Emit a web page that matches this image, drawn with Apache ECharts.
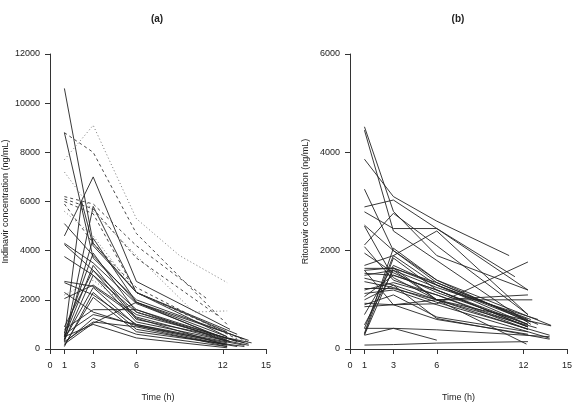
<!DOCTYPE html>
<html><head><meta charset="utf-8">
<script src="https://cdn.jsdelivr.net/npm/echarts@6/dist/echarts.min.js"></script>
<style>html,body{margin:0;padding:0;background:#fff}#c{width:577px;height:411px}</style>
</head><body><div id="c"></div>
<script>
// ---- data ----
const xTicks = [0, 1, 3, 6, 12, 15];
const panelTitles = ['(a)', '(b)'];
const yNames = ['Indinavir concentration (ng/mL)', 'Ritonavir concentration (ng/mL)'];
const xName = 'Time (h)';

// Panel (a): indinavir, solid lines
const indinavirSolid = [
  [[1,10600],[3,4300],[6,2300],[12.3,700]],
  [[1,8800],[3,3700],[6,2000],[13.5,400]],
  [[1,4600],[3,7000],[6,2750],[12.5,800]],
  [[1,500],[2.2,6000],[3,4200],[6,2300],[12.3,500]],
  [[1,300],[3,5800],[6,2300],[13,600]],
  [[1,400],[3,4500],[6,1900],[13.8,350]],
  [[1,4300],[3,3500],[6,1850],[12.3,400]],
  [[1,4250],[3,3200],[6,1600],[13,300]],
  [[1,3760],[3,3000],[6,1500],[12.3,350]],
  [[1,2750],[3,2550],[6,1300],[12.5,300]],
  [[1,2050],[3,2600],[6,1400],[13.5,250]],
  [[1,2700],[3,2200],[6,1000],[12.3,200]],
  [[1,5100],[3,3800],[6,1900],[12.3,500]],
  [[1,650],[3,3900],[6,1500],[13.8,200]],
  [[1,500],[3,3400],[6,1250],[12,200]],
  [[1,800],[3,1600],[4.5,1600],[6,1600],[12.3,300]],
  [[1,600],[3,1400],[6,1000],[13.5,150]],
  [[1,300],[3,1100],[6,900],[12.3,100]],
  [[1,200],[3,1050],[6,1900],[12.5,300]],
  [[1,100],[3,2300],[6,800],[13,100]],
  [[1,400],[3,2500],[6,950],[12.3,150]],
  [[1,350],[3,3000],[6,1100],[13.8,150]],
  [[1,250],[3,1250],[6,600],[12.3,100]],
  [[1,500],[3,1000],[6,450],[12.3,50]],
  [[1,150],[3,2100],[6,700],[13.5,100]],
  [[1,2300],[3,1500],[6,950],[12.3,250]],
  [[1,900],[3,3200],[6,1200],[14,250]]
];
// Panel (a): dashed lines
const indinavirDashed = [
  [[1,8800],[3,8000],[6,4700],[12.3,1000]],
  [[1,6200],[3,5900],[6,4200],[11,2000]],
  [[1,6100],[3,5700],[6,3700],[11.8,1300]],
  [[1,6000],[3,5500],[6,2300],[13.9,250]],
  [[1,5900],[3,4300],[6,2500],[13,400]]
];
// Panel (a): dotted lines
const indinavirDotted = [
  [[1,7700],[3,9100],[6,5300],[9,3800],[12.3,2700]],
  [[1,7200],[3,5600],[6,3800],[10,1500],[12.3,1550]],
  [[1,5600],[3,4600],[6,2300],[12.3,700]],
  [[1,2200],[3,2800],[6,1500],[12.3,400]]
];
// Panel (b): ritonavir
const ritonavir = [
  [[1,4520],[3,2800],[6,1900],[12.3,1200]],
  [[1,4450],[3,2400],[6,1800],[12.5,500]],
  [[1,3860],[3,3100],[6,2600],[11,1900]],
  [[1,3250],[3,2000],[6,1350],[12.3,600]],
  [[1,2890],[3,3030],[6,2450],[12.3,1200]],
  [[1,2790],[3,2450],[6,2450],[11.4,1470]],
  [[1,2520],[3,2000],[6,1400],[13.9,480]],
  [[1,2115],[3,2760],[6,2100],[12.3,700]],
  [[1,2080],[3,1400],[6,1100],[12.3,400]],
  [[1,1700],[3,1900],[6,2400],[12.3,700]],
  [[1,1640],[3,1640],[6,1350],[13,500]],
  [[1,1600],[3,1650],[6,1300],[12.5,550]],
  [[1,1540],[3,1500],[6,1200],[12.3,450]],
  [[1,1440],[3,1300],[6,1000],[12.3,400]],
  [[1,1370],[3,1250],[6,950],[13.8,280]],
  [[1,1230],[3,1230],[6,1000],[12.3,1100]],
  [[1,1130],[3,1200],[6,900],[13.8,220]],
  [[1,1065],[3,1500],[6,1200],[12.3,500]],
  [[1,930],[3,900],[6,1000],[12.6,1000]],
  [[1,860],[3,900],[6,920],[12.3,1770]],
  [[1,700],[3,1700],[6,1300],[12.3,500]],
  [[1,490],[3,1600],[6,1000],[12.9,430]],
  [[1,420],[3,1900],[6,1300],[12.5,600]],
  [[1,320],[3,2050],[6,1400],[12.3,550]],
  [[1,285],[3,1650],[6,1000],[13.9,470]],
  [[1,300],[3,1850],[6,1200],[12.3,450]],
  [[1,280],[3,420],[6,390],[13.8,250]],
  [[1,80],[3,90],[6,120],[12.3,150]],
  [[1,420],[3,420],[6,180]],
  [[1,1600],[3,900],[6,600],[12.3,300]],
  [[1,1000],[3,1300],[6,620],[13.8,200]],
  [[1,2500],[3,1450],[6,1000],[12.2,100]],
  [[1,1950],[3,1550],[6,1150],[12.3,500]],
  [[1,1200],[3,1350],[6,1100],[12.3,450]],
  [[1,900],[3,1100],[6,650],[12.3,350]],
  [[1,1500],[3,1600],[6,1250],[13,600]]
];
const yMax = [12000, 6000];

// ---- chart ----
const FONT = 'Liberation Sans, Arial, sans-serif';
const AX = '#333';
function xAxis(i) {
  return {
    type: 'value', gridIndex: i, min: 0, max: 15,
    name: xName, nameLocation: 'middle', nameGap: 44,
    nameTextStyle: {fontFamily: FONT, fontSize: 9, color: '#222'},
    axisLine: {show: true, lineStyle: {color: AX, width: 1}},
    axisTick: {show: true, length: 5, customValues: xTicks, lineStyle: {color: AX}},
    axisLabel: {customValues: xTicks, margin: 12, fontFamily: FONT, fontSize: 9, color: '#222'},
    splitLine: {show: false}
  };
}
function yAxis(i) {
  return {
    type: 'value', gridIndex: i, min: 0, max: yMax[i], interval: 2000,
    name: yNames[i], nameLocation: 'middle', nameGap: 40, nameRotate: 90,
    nameTextStyle: {fontFamily: FONT, fontSize: 9, color: '#222'},
    axisLine: {show: true, lineStyle: {color: AX, width: 1}},
    axisTick: {show: true, length: 5, lineStyle: {color: AX}},
    axisLabel: {margin: 10, fontFamily: FONT, fontSize: 9, color: '#222',
                formatter: v => String(v)},
    splitLine: {show: false}
  };
}
const series = [];
function add(list, gi, style) {
  list.forEach(d => series.push({
    type: 'line', xAxisIndex: gi, yAxisIndex: gi, data: d,
    symbol: 'none', silent: true, animation: false,
    lineStyle: style
  }));
}
add(indinavirSolid, 0, {color: '#222', width: 0.9});
add(indinavirDashed, 0, {color: '#333', width: 0.9, type: [3, 3]});
add(indinavirDotted, 0, {color: '#666', width: 0.9, type: [1, 2.5]});
add(ritonavir, 1, {color: '#222', width: 0.9});

const chart = echarts.init(document.getElementById('c'), null, {renderer: 'canvas'});
chart.setOption({
  animation: false,
  backgroundColor: '#fff',
  graphic: [
    {type: 'text', x: 157, y: 19, style: {text: panelTitles[0], x: 0, y: 0, align: 'center', verticalAlign: 'middle',
      font: 'bold 10px Liberation Sans, Arial, sans-serif', fill: '#222'}},
    {type: 'text', x: 458, y: 19, style: {text: panelTitles[1], x: 0, y: 0, align: 'center', verticalAlign: 'middle',
      font: 'bold 10px Liberation Sans, Arial, sans-serif', fill: '#222'}}
  ],
  grid: [
    {left: 48, top: 54, width: 218, height: 295},
    {left: 350, top: 54, width: 217, height: 295}
  ],
  xAxis: [xAxis(0), xAxis(1)],
  yAxis: [yAxis(0), yAxis(1)],
  series: series
});
</script></body></html>
